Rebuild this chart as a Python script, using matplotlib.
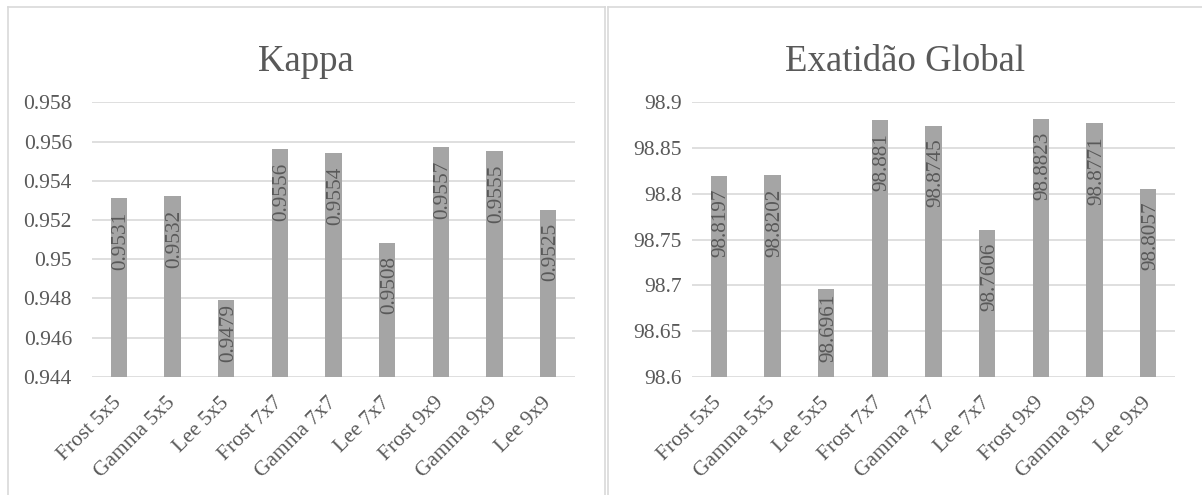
import matplotlib
matplotlib.use("Agg")
import matplotlib.pyplot as plt
from matplotlib.lines import Line2D
import numpy as np

plt.rcParams['font.family'] = ['Liberation Serif', 'DejaVu Serif']

categories = ["Frost 5x5", "Gamma 5x5", "Lee 5x5", "Frost 7x7", "Gamma 7x7",
              "Lee 7x7", "Frost 9x9", "Gamma 9x9", "Lee 9x9"]
kappa = [0.9531, 0.9532, 0.9479, 0.9556, 0.9554, 0.9508, 0.9557, 0.9555, 0.9525]
kappa_ticks = [0.944, 0.946, 0.948, 0.95, 0.952, 0.954, 0.956, 0.958]
kappa_ticklabels = ["0.944", "0.946", "0.948", "0.95", "0.952", "0.954", "0.956", "0.958"]
exatidao = [98.8197, 98.8202, 98.6961, 98.881, 98.8745, 98.7606, 98.8823, 98.8771, 98.8057]
exatidao_ticks = [98.6, 98.65, 98.7, 98.75, 98.8, 98.85, 98.9]
exatidao_ticklabels = ["98.6", "98.65", "98.7", "98.75", "98.8", "98.85", "98.9"]

W, H = 1202, 495
DPI = 100
TEXT = "#595959"
GRID = "#D9D9D9"
BAR = "#A5A5A5"
PT = 72 / DPI  # points per pixel

fig = plt.figure(figsize=(W / DPI, H / DPI), dpi=DPI)
fig.patch.set_facecolor("white")


def px_x(x):
    return x / W


def px_y(y):
    return 1 - y / H


# panel frames
frame_kw = dict(color=GRID, lw=1.2, transform=fig.transFigure, clip_on=False)
fig.add_artist(Line2D([px_x(7.5), px_x(7.5)], [px_y(6.5), 0], **frame_kw))
fig.add_artist(Line2D([px_x(7.5), px_x(604.5)], [px_y(6.5), px_y(6.5)], **frame_kw))
fig.add_artist(Line2D([px_x(604.5), px_x(604.5)], [px_y(6.5), 0], **frame_kw))
fig.add_artist(Line2D([px_x(607.5), px_x(607.5)], [px_y(6.5), 0], **frame_kw))
fig.add_artist(Line2D([px_x(607.5), 1], [px_y(6.5), px_y(6.5)], **frame_kw))

ax_h = (376.7 - 102.4) / H
ax_b = 1 - 376.7 / H
ax_w = 483 / W
ax1 = fig.add_axes([92 / W, ax_b, ax_w, ax_h])
ax2 = fig.add_axes([692 / W, ax_b, ax_w, ax_h])

panels = [
    (ax1, kappa, kappa_ticks, kappa_ticklabels, "Kappa", (7 + 604) / 2, 20),
    (ax2, exatidao, exatidao_ticks, exatidao_ticklabels, "Exatidão Global", (607 + 1204) / 2, 10),
]

labels_all = []
for ax, vals, ticks, ticklabels, title, cx, ypad in panels:
    x = np.arange(len(categories))
    ax.bar(x, [v - ticks[0] for v in vals], bottom=ticks[0], width=0.31,
           color=BAR, zorder=3)
    ax.set_xlim(-0.5, len(categories) - 0.5)
    ax.set_ylim(ticks[0], ticks[-1])
    ax.set_yticks(ticks)
    ax.set_yticklabels(ticklabels)
    ax.set_xticks(x)
    ax.set_xticklabels(categories, rotation=45, ha="right", va="center",
                       rotation_mode="anchor")
    ax.tick_params(axis="y", length=0, pad=ypad * PT, labelsize=15.5, labelcolor=TEXT)
    ax.tick_params(axis="x", length=0, pad=17, labelsize=15.5, labelcolor=TEXT)
    for s in ax.spines.values():
        s.set_visible(False)
    ax.grid(axis="y", color=GRID, lw=1.2, zorder=0)
    ax.set_axisbelow(True)
    fig.text(px_x(cx), px_y(71), title, ha="center", va="baseline",
             fontsize=26.5, color=TEXT)
    for xi, v in zip(x, vals):
        t = ax.annotate(f"{v:g}", xy=(xi, v), xytext=(2.3 * PT, -13 * PT),
                        textcoords="offset points", rotation=90, ha="center",
                        va="top", fontsize=15.3, color=TEXT, zorder=4)
        labels_all.append((ax, t, ticks[0]))

# keep each value label inside its bar, clear of the baseline
fig.canvas.draw()
renderer = fig.canvas.get_renderer()
for ax, t, base in labels_all:
    bb = t.get_window_extent(renderer)
    base_px = ax.transData.transform((0, base))[1]
    min_bottom = base_px + 15
    if bb.y0 < min_bottom:
        shift = min_bottom - bb.y0
        ox, oy = t.xyann
        t.xyann = (ox, oy + shift * PT)

fig.savefig("out.png", dpi=DPI, facecolor="white")
